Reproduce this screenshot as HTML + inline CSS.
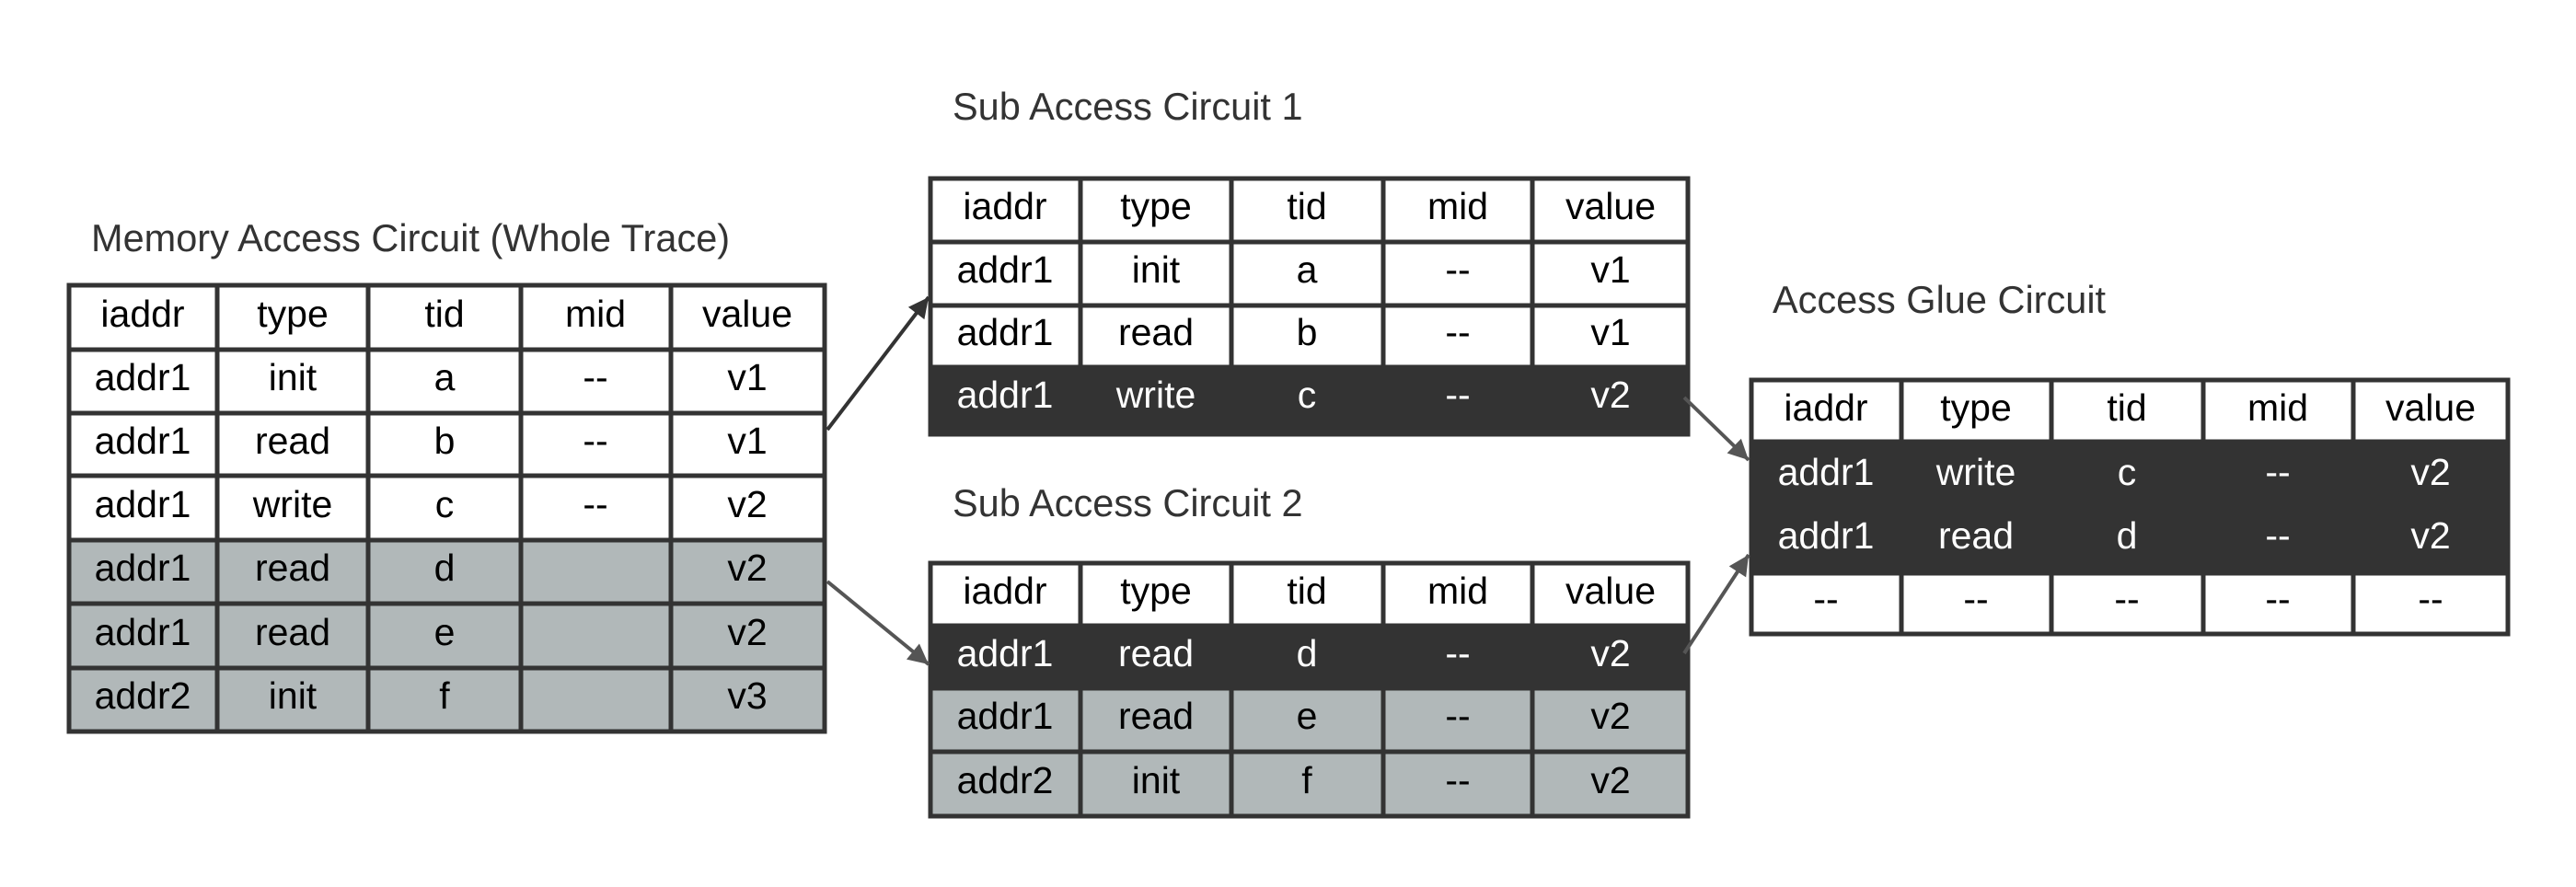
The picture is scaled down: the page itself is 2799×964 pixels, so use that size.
<!DOCTYPE html>
<html><head><meta charset="utf-8"><style>
html,body{margin:0;padding:0;background:#fff;}
svg{display:block;}
text{font-family:"Liberation Sans",Arial,sans-serif;}
.c{font-size:41px;text-anchor:middle;fill:#000;}
.w{font-size:41px;text-anchor:middle;fill:#fff;}
.t{font-size:41.5px;fill:#333;}
.g{stroke:#333;stroke-width:5;fill:none;}
</style></head><body>
<svg width="2799" height="964" viewBox="0 0 2799 964" xmlns="http://www.w3.org/2000/svg">
<defs>
<marker id="ah" viewBox="0 0 10 10" refX="10" refY="5" markerWidth="34" markerHeight="22" markerUnits="userSpaceOnUse" orient="auto"><path d="M0,0 L10,5 L0,10 z" fill="#333"/></marker>
<marker id="ah2" viewBox="0 0 10 10" refX="10" refY="5" markerWidth="34" markerHeight="22" markerUnits="userSpaceOnUse" orient="auto"><path d="M0,0 L10,5 L0,10 z" fill="#555"/></marker>
</defs>

<text class="t" x="99" y="273">Memory Access Circuit (Whole Trace)</text>
<text class="t" x="1035" y="130">Sub Access Circuit 1</text>
<text class="t" x="1035" y="561">Sub Access Circuit 2</text>
<text class="t" x="1926" y="340">Access Glue Circuit</text>

<!-- Table 1 -->
<rect x="75" y="587" width="821" height="208" fill="#b1b8b9"/>
<path class="g" d="M75,310H896V795H75Z M75,380H896 M75,449H896 M75,517H896 M75,587H896 M75,656H896 M75,726H896 M236,310V795 M400,310V795 M566,310V795 M729,310V795"/>
<g class="c">
<text x="155" y="355">iaddr</text><text x="318" y="355">type</text><text x="483" y="355">tid</text><text x="647" y="355">mid</text><text x="812" y="355">value</text>
<text x="155" y="424">addr1</text><text x="318" y="424">init</text><text x="483" y="424">a</text><text x="647" y="424">--</text><text x="812" y="424">v1</text>
<text x="155" y="493">addr1</text><text x="318" y="493">read</text><text x="483" y="493">b</text><text x="647" y="493">--</text><text x="812" y="493">v1</text>
<text x="155" y="562">addr1</text><text x="318" y="562">write</text><text x="483" y="562">c</text><text x="647" y="562">--</text><text x="812" y="562">v2</text>
<text x="155" y="631">addr1</text><text x="318" y="631">read</text><text x="483" y="631">d</text><text x="812" y="631">v2</text>
<text x="155" y="701">addr1</text><text x="318" y="701">read</text><text x="483" y="701">e</text><text x="812" y="701">v2</text>
<text x="155" y="770">addr2</text><text x="318" y="770">init</text><text x="483" y="770">f</text><text x="812" y="770">v3</text>
</g>

<!-- Sub 1 -->
<path class="g" d="M1011,194H1834V472H1011Z M1011,263H1834 M1011,332H1834 M1011,399H1834 M1174,194V399 M1338,194V399 M1503,194V399 M1665,194V399"/>
<rect x="1009" y="399" width="827" height="75" fill="#333"/>
<text class="c" x="1092" y="238">iaddr</text><text class="c" x="1256" y="238">type</text><text class="c" x="1420" y="238">tid</text><text class="c" x="1584" y="238">mid</text><text class="c" x="1750" y="238">value</text>
<text class="c" x="1092" y="307">addr1</text><text class="c" x="1256" y="307">init</text><text class="c" x="1420" y="307">a</text><text class="c" x="1584" y="307">--</text><text class="c" x="1750" y="307">v1</text>
<text class="c" x="1092" y="375">addr1</text><text class="c" x="1256" y="375">read</text><text class="c" x="1420" y="375">b</text><text class="c" x="1584" y="375">--</text><text class="c" x="1750" y="375">v1</text>
<text class="w" x="1092" y="443">addr1</text><text class="w" x="1256" y="443">write</text><text class="w" x="1420" y="443">c</text><text class="w" x="1584" y="443">--</text><text class="w" x="1750" y="443">v2</text>

<!-- Sub 2 -->
<rect x="1011" y="748" width="823" height="139" fill="#b1b8b9"/>
<path class="g" d="M1011,612H1834V887H1011Z M1011,680H1834 M1011,748H1834 M1011,817H1834 M1174,612V887 M1338,612V887 M1503,612V887 M1665,612V887"/>
<rect x="1009" y="680" width="827" height="68" fill="#333"/>
<text class="c" x="1092" y="656">iaddr</text><text class="c" x="1256" y="656">type</text><text class="c" x="1420" y="656">tid</text><text class="c" x="1584" y="656">mid</text><text class="c" x="1750" y="656">value</text>
<text class="w" x="1092" y="724">addr1</text><text class="w" x="1256" y="724">read</text><text class="w" x="1420" y="724">d</text><text class="w" x="1584" y="724">--</text><text class="w" x="1750" y="724">v2</text>
<text class="c" x="1092" y="792">addr1</text><text class="c" x="1256" y="792">read</text><text class="c" x="1420" y="792">e</text><text class="c" x="1584" y="792">--</text><text class="c" x="1750" y="792">v2</text>
<text class="c" x="1092" y="862">addr2</text><text class="c" x="1256" y="862">init</text><text class="c" x="1420" y="862">f</text><text class="c" x="1584" y="862">--</text><text class="c" x="1750" y="862">v2</text>

<!-- Glue -->
<path class="g" d="M1903,413H2725V689H1903Z M1903,480H2725 M1903,623H2725 M2066,413V689 M2229,413V689 M2394,413V689 M2557,413V689"/>
<rect x="1901" y="480" width="826" height="143" fill="#333"/>
<text class="c" x="1984" y="457">iaddr</text><text class="c" x="2147" y="457">type</text><text class="c" x="2311" y="457">tid</text><text class="c" x="2475" y="457">mid</text><text class="c" x="2641" y="457">value</text>
<text class="w" x="1984" y="527">addr1</text><text class="w" x="2147" y="527">write</text><text class="w" x="2311" y="527">c</text><text class="w" x="2475" y="527">--</text><text class="w" x="2641" y="527">v2</text>
<text class="w" x="1984" y="596">addr1</text><text class="w" x="2147" y="596">read</text><text class="w" x="2311" y="596">d</text><text class="w" x="2475" y="596">--</text><text class="w" x="2641" y="596">v2</text>
<text class="c" x="1984" y="665">--</text><text class="c" x="2147" y="665">--</text><text class="c" x="2311" y="665">--</text><text class="c" x="2475" y="665">--</text><text class="c" x="2641" y="665">--</text>

<line x1="899" y1="467" x2="1009" y2="323" stroke="#333" stroke-width="4" marker-end="url(#ah)"/>
<line x1="899" y1="632" x2="1009" y2="722" stroke="#555" stroke-width="4" marker-end="url(#ah2)"/>
<line x1="1830" y1="432" x2="1900" y2="500" stroke="#555" stroke-width="4" marker-end="url(#ah2)"/>
<line x1="1830" y1="710" x2="1900" y2="603" stroke="#555" stroke-width="4" marker-end="url(#ah2)"/>
</svg>
</body></html>
